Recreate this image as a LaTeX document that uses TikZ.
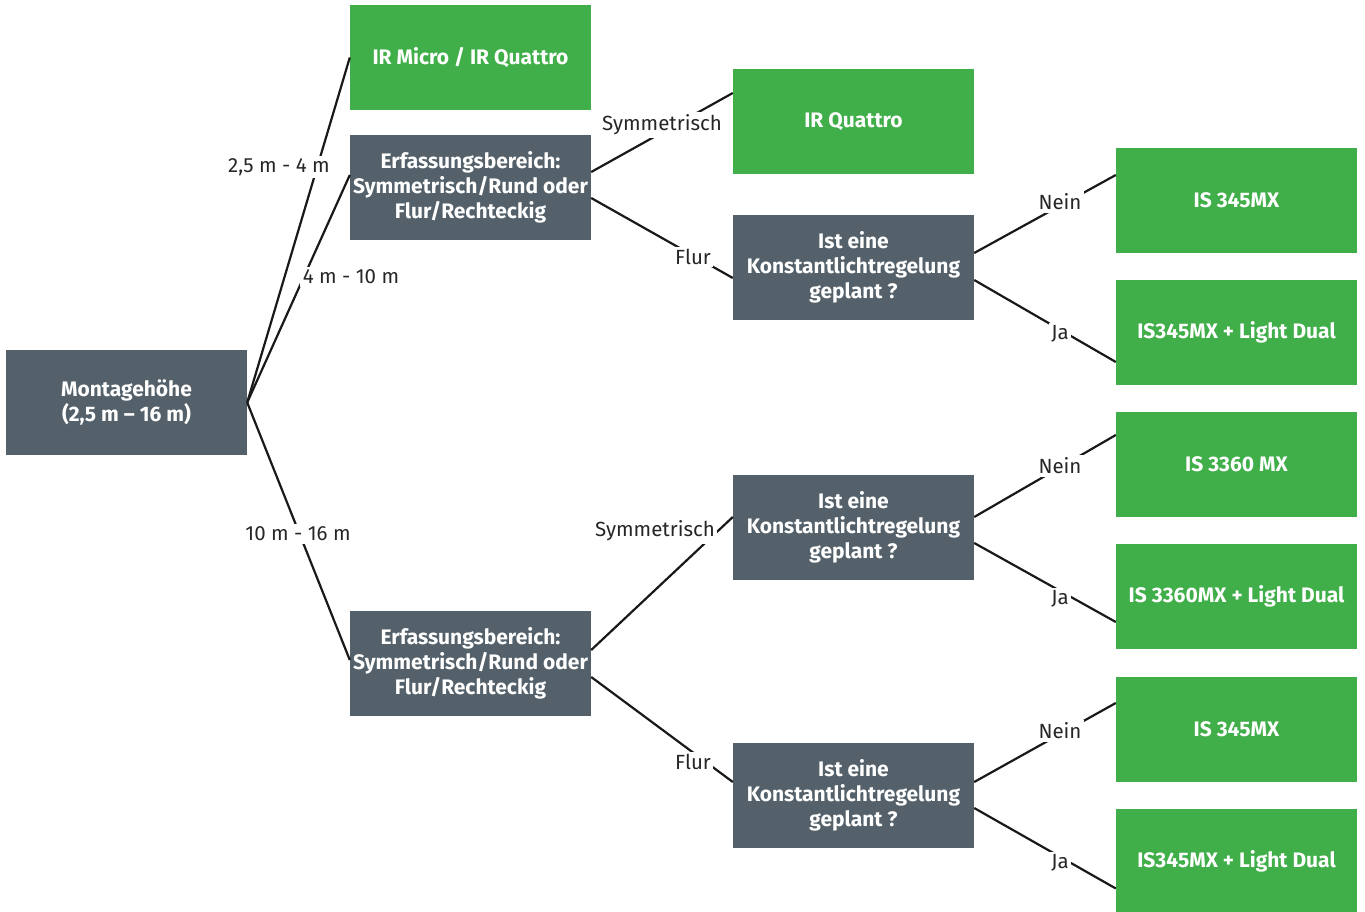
\documentclass[tikz,border=0pt]{standalone}
\usepackage{fontspec}
\setmainfont{Fira Sans}
\definecolor{boxgreen}{RGB}{64,174,73}
\definecolor{boxgrey}{RGB}{84,97,106}
\begin{document}
\begin{tikzpicture}[x=1pt,y=-1pt,
  box/.style={minimum width=241pt,minimum height=105pt,inner sep=1pt,align=center,
    text=white,font=\fontsize{21}{25}\selectfont\bfseries},
  gbox/.style={box,fill=boxgreen},
  dbox/.style={box,fill=boxgrey},
  conn/.style={line width=2.2pt,black!90},
  lab/.style={fill=white,inner sep=2.5pt,font=\fontsize{20.5}{22}\selectfont,text=black!85}]
\useasboundingbox (0,0) rectangle (1365,912);
\node[dbox] (mont) at (126.5,402.5) {Montagehöhe\\(2,5 m – 16 m)};
\node[gbox] (irmicro) at (470.5,57.5) {IR Micro / IR Quattro};
\node[dbox] (erf1) at (470.5,187.5) {Erfassungsbereich:\\Symmetrisch/Rund oder\\Flur/Rechteckig};
\node[dbox] (erf2) at (470.5,663.5) {Erfassungsbereich:\\Symmetrisch/Rund oder\\Flur/Rechteckig};
\node[gbox] (irq) at (853.5,121.5) {IR Quattro};
\node[dbox] (ist1) at (853.5,267.5) {Ist eine\\Konstantlichtregelung\\geplant ?};
\node[dbox] (ist2) at (853.5,527.5) {Ist eine\\Konstantlichtregelung\\geplant ?};
\node[dbox] (ist3) at (853.5,795.5) {Ist eine\\Konstantlichtregelung\\geplant ?};
\node[gbox] (r1) at (1236.5,200.5) {IS 345MX};
\node[gbox] (r2) at (1236.5,332.5) {IS345MX + Light Dual};
\node[gbox] (r3) at (1236.5,464.5) {IS 3360 MX};
\node[gbox] (r4) at (1236.5,596.5) {IS 3360MX + Light Dual};
\node[gbox] (r5) at (1236.5,729.5) {IS 345MX};
\node[gbox] (r6) at (1236.5,861.5) {IS345MX + Light Dual};
% connectors
\draw[conn] (mont.east) -- (irmicro.west);
\draw[conn] (mont.east) -- ([yshift=12.5pt]erf1.west);
\draw[conn] (mont.east) -- ([yshift=3.5pt]erf2.west);
\draw[conn] ([yshift=15.5pt]erf1.east) -- ([yshift=28.5pt]irq.west);
\draw[conn] ([yshift=-10.5pt]erf1.east) -- ([yshift=-10.5pt]ist1.west);
\draw[conn] ([yshift=14.5pt]ist1.east) -- ([yshift=25.5pt]r1.west);
\draw[conn] ([yshift=-12.5pt]ist1.east) -- ([yshift=-29.5pt]r2.west);
\draw[conn] ([yshift=13.5pt]erf2.east) -- ([yshift=10.5pt]ist2.west);
\draw[conn] ([yshift=-13.5pt]erf2.east) -- ([yshift=13.5pt]ist3.west);
\draw[conn] ([yshift=10.5pt]ist2.east) -- ([yshift=29.5pt]r3.west);
\draw[conn] ([yshift=-15.5pt]ist2.east) -- ([yshift=-25.5pt]r4.west);
\draw[conn] ([yshift=13.5pt]ist3.east) -- ([yshift=26.5pt]r5.west);
\draw[conn] ([yshift=-12.5pt]ist3.east) -- ([yshift=-27pt]r6.west);
% labels
\node[lab] (l1) at (279,167) {2,5 m - 4 m};
\node[lab] (l2) at (351,277) {4 m - 10 m};
\node[lab] (l3) at (298,534) {10 m - 16 m};
\node[lab] (l4) at (662,125) {Symmetrisch};
\node[lab] (l5) at (693,257) {Flur};
\node[lab] (l6) at (1060,202) {Nein};
\node[lab] (l7) at (1060,334) {Ja};
\node[lab] (l8) at (655,531) {Symmetrisch};
\node[lab] (l9) at (693,762) {Flur};
\node[lab] (l10) at (1060,466) {Nein};
\node[lab] (l11) at (1060,599) {Ja};
\node[lab] (l12) at (1060,731) {Nein};
\node[lab] (l13) at (1060,863) {Ja};
\end{tikzpicture}
\end{document}
